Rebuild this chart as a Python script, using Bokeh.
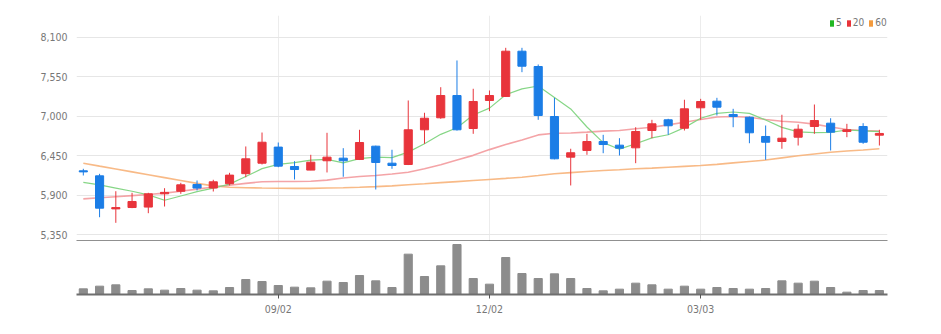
import pandas as pd
from bokeh.plotting import figure
from bokeh.layouts import column
from bokeh.models import (ColumnDataSource, Range1d, FixedTicker, NumeralTickFormatter,
                          Legend, LegendItem)
from bokeh.embed import file_html
from bokeh.resources import INLINE

# ---- data (weekly candles) ----
weeks = [d.strftime("%m/%d") for d in pd.date_range("2024-06-10", periods=50, freq="7D")]

open_ = [6240, 6170, 5710, 5729, 5735, 5920, 5955, 6050, 6000, 6060,
         6200, 6346, 6570, 6300, 6250, 6380, 6416, 6398, 6583, 6346,
         6328, 6811, 6978, 7288, 6829, 7219, 7275, 7905, 7692, 6996,
         6430, 6523, 6648, 6597, 6560, 6801, 6950, 6833, 7117, 7209,
         7024, 6986, 6718, 6648, 6708, 6857, 6903, 6787, 6857, 6736]
high = [6268, 6198, 5956, 5934, 5934, 5998, 6073, 6105, 6115, 6212,
        6579, 6773, 6634, 6374, 6463, 6769, 6555, 6811, 6590, 6533,
        7219, 7048, 7404, 7776, 7382, 7358, 7952, 7952, 7720, 7256,
        6547, 6755, 6741, 6694, 6847, 6950, 6964, 7229, 7242, 7256,
        7103, 6996, 6871, 7020, 6885, 7163, 6972, 6894, 6903, 6811]
low = [6175, 5594, 5516, 5720, 5650, 5743, 5920, 5966, 5952, 6036,
       6151, 6328, 6290, 6119, 6249, 6217, 6157, 6390, 5980, 6268,
       6320, 6616, 6964, 6800, 6755, 7070, 7270, 7613, 6950, 6400,
       6036, 6463, 6485, 6453, 6346, 6694, 6741, 6801, 6950, 7010,
       6847, 6624, 6393, 6547, 6592, 6755, 6523, 6708, 6616, 6592]
close = [6225, 5720, 5728, 5813, 5920, 5940, 6045, 6000, 6087, 6180,
         6407, 6638, 6305, 6258, 6360, 6430, 6380, 6634, 6356, 6314,
         6811, 6972, 7288, 6811, 7205, 7288, 7905, 7696, 7010, 6407,
         6491, 6648, 6606, 6555, 6787, 6894, 6867, 7103, 7205, 7126,
         6996, 6769, 6638, 6694, 6819, 6940, 6778, 6811, 6638, 6760]
volume = [17, 25, 29, 12, 17, 13, 18, 13, 11, 21,
          45, 39, 27, 22, 20, 40, 36, 57, 41, 21,
          121, 54, 86, 150, 48, 31, 111, 63, 48, 62,
          48, 18, 11, 16, 34, 29, 16, 25, 16, 21,
          18, 16, 18, 41, 34, 40, 21, 7, 12, 12]
ma5 = [6080, 6045, 6000, 5955, 5905, 5830, 5890, 5950, 6000, 6055,
       6160, 6270, 6330, 6355, 6390, 6398, 6350, 6410, 6430, 6423,
       6500, 6617, 6748, 6839, 7017, 7113, 7299, 7381, 7421, 7261,
       7102, 6850, 6632, 6541, 6617, 6698, 6742, 6841, 6971, 7039,
       7059, 7040, 6947, 6845, 6783, 6772, 6774, 6808, 6797, 6785]
ma20 = [5850, 5865, 5880, 5895, 5910, 5930, 5955, 5985, 6015, 6040,
        6065, 6088, 6091, 6092, 6095, 6110, 6140, 6160, 6175, 6195,
        6220, 6270, 6325, 6390, 6455, 6535, 6605, 6670, 6740, 6762,
        6766, 6778, 6792, 6801, 6825, 6847, 6880, 6917, 6955, 6990,
        6996, 6986, 6955, 6930, 6915, 6890, 6850, 6815, 6801, 6792]
ma60 = [6346, 6305, 6265, 6225, 6185, 6145, 6105, 6065, 6030, 6012,
        6005, 6000, 5998, 5995, 5995, 6000, 6005, 6012, 6020, 6030,
        6045, 6059, 6075, 6090, 6105, 6120, 6135, 6151, 6175, 6200,
        6215, 6230, 6245, 6255, 6268, 6278, 6290, 6302, 6314, 6330,
        6350, 6370, 6390, 6420, 6450, 6475, 6499, 6515, 6530, 6547]
ma_labels = ["5", "20", "60"]
tick_labels = ["09/02", "12/02", "03/03"]
price_ticks = [5350, 5900, 6450, 7000, 7550, 8100]

# ---- styling ----
UP = "#e8343b"
DOWN = "#1b7de6"
FONT = "Liberation Sans Narrow, DejaVu Sans Condensed, sans-serif"
LABEL_COLOR = "#777777"
SWATCH = ["#22b822", "#e8343b", "#f39a3c"]

x = list(range(len(weeks)))
ticks = [weeks.index(t) for t in tick_labels]
colors = [UP if c >= o else DOWN for o, c in zip(open_, close)]
src = ColumnDataSource(dict(
    x=x, open=open_, high=high, low=low, close=close,
    top=[max(o, c) for o, c in zip(open_, close)],
    bottom=[min(o, c) for o, c in zip(open_, close)],
    color=colors, volume=volume, ma5=ma5, ma20=ma20, ma60=ma60,
))

xr = Range1d(-0.42, 49.5)

p1 = figure(frame_width=811, frame_height=226, x_range=xr, y_range=Range1d(5256, 8402),
            output_backend="svg", toolbar_location=None,
            min_border_left=76, min_border_right=54, min_border_top=15, min_border_bottom=0,
            outline_line_color=None, background_fill_color="white", border_fill_color="white")

p1.line("x", "ma60", source=src, color="#f7b27a", line_width=1.6, line_alpha=0.9)
p1.line("x", "ma20", source=src, color="#f39a9d", line_width=1.6, line_alpha=0.9)
p1.line("x", "ma5", source=src, color="#7fd47f", line_width=1.2, line_alpha=0.95)

p1.segment(x0="x", y0="high", x1="x", y1="low", source=src, line_color="color", line_width=1)
p1.vbar(x="x", width=0.5, top="top", bottom="bottom", source=src,
        fill_color="color", line_color="color", line_width=1)

# legend swatches (no visible marks of their own)
nan = float("nan")
items = []
for lab, col in zip(ma_labels, SWATCH):
    q = p1.quad(left=[nan], right=[nan], top=[nan], bottom=[nan],
                fill_color=col, line_color=None)
    items.append(LegendItem(label=lab, renderers=[q]))
legend = Legend(items=items, orientation="horizontal", location=(753, 213),
                glyph_width=5, glyph_height=8, label_standoff=2, spacing=4,
                label_width=0, padding=0, margin=0,
                border_line_color=None, background_fill_alpha=0,
                label_text_font=FONT, label_text_font_size="10px",
                label_text_color=LABEL_COLOR, label_height=10)
p1.add_layout(legend)

p1.yaxis.ticker = FixedTicker(ticks=price_ticks)
p1.yaxis.formatter = NumeralTickFormatter(format="0,0")
p1.yaxis.axis_line_color = None
p1.yaxis.major_tick_line_color = None
p1.yaxis.minor_tick_line_color = None
p1.yaxis.major_label_standoff = 3
p1.yaxis.major_label_text_font = FONT
p1.yaxis.major_label_text_font_size = "10.5px"
p1.yaxis.major_label_text_color = LABEL_COLOR

p1.xaxis.ticker = FixedTicker(ticks=ticks)
p1.xaxis.major_label_overrides = {t: "" for t in ticks}
p1.xaxis.major_label_text_font_size = "0px"
p1.xaxis.major_label_standoff = 0
p1.xaxis.major_tick_out = 0
p1.xaxis.major_tick_in = 0
p1.xaxis.minor_tick_out = 0
p1.xaxis.minor_tick_in = 0
p1.xaxis.axis_line_color = "#222222"
p1.xaxis.axis_line_width = 2

p1.ygrid.grid_line_color = "#e6e6e6"
p1.xgrid.grid_line_color = "#ececec"

p2 = figure(frame_width=811, frame_height=53, x_range=xr, y_range=Range1d(0, 159),
            output_backend="svg", toolbar_location=None,
            min_border_left=76, min_border_right=54, min_border_top=0, min_border_bottom=4,
            outline_line_color=None, background_fill_color="white", border_fill_color="white")
p2.vbar(x="x", width=0.5, top="volume", bottom=0, source=src,
        fill_color="#8c8c8c", line_color="#8c8c8c")
p2.yaxis.visible = False
p2.xgrid.visible = False
p2.ygrid.visible = False
p2.xaxis.ticker = FixedTicker(ticks=ticks)
p2.xaxis.major_label_overrides = {t: lab for t, lab in zip(ticks, tick_labels)}
p2.xaxis.axis_line_color = "#6e6e6e"
p2.xaxis.axis_line_width = 2
p2.xaxis.major_tick_out = 4
p2.xaxis.major_tick_in = 0
p2.xaxis.major_tick_line_color = "#555555"
p2.xaxis.minor_tick_line_color = None
p2.xaxis.major_label_standoff = 4
p2.xaxis.major_label_text_font = FONT
p2.xaxis.major_label_text_font_size = "10.5px"
p2.xaxis.major_label_text_color = LABEL_COLOR

layout = column(p1, p2, spacing=0)
open("out.html", "w").write(file_html(layout, INLINE))
